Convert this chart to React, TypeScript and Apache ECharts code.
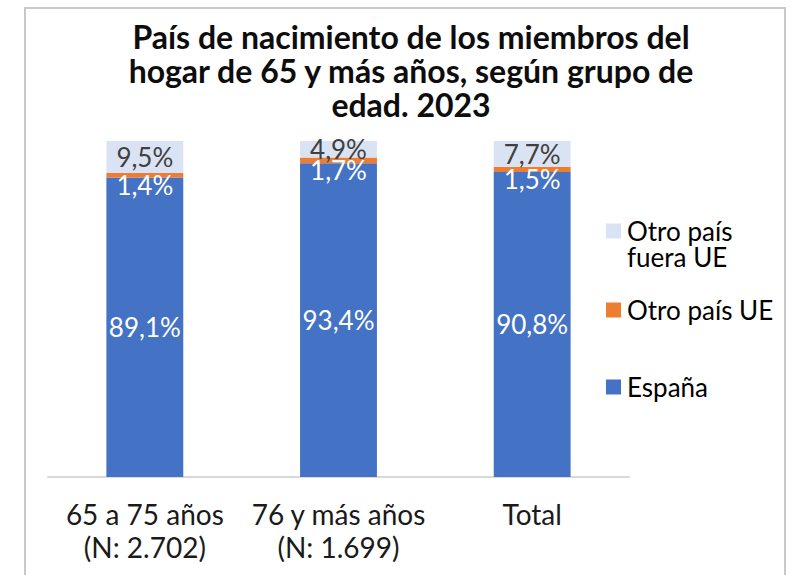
import React, { useEffect, useRef } from "react";
import * as echarts from "echarts";

const categories = ["65 a 75 años\n(N: 2.702)", "76 y más años\n(N: 1.699)", "Total"];
const espana = [89.1, 93.4, 90.8];
const otroUE = [1.4, 1.7, 1.5];
const fueraUE = [9.5, 4.9, 7.7];
const seriesNames = ["España", "Otro país UE", "Otro país fuera UE"];
const titleText = "País de nacimiento de los miembros del\nhogar de 65 y más años, según grupo de\nedad. 2023";

const fmt = (v: number) => v.toFixed(1).replace(".", ",") + "%";

export default function App() {
  const ref = useRef<HTMLDivElement>(null);
  useEffect(() => {
    if (!ref.current) return;
    const chart = echarts.init(ref.current, null, { renderer: "svg" });
    const font = "Lato, 'Noto Sans', sans-serif";
    const labelBase = { show: true, fontFamily: font, fontSize: 26, formatter: (p: any) => fmt(p.value) };
    const legText = { fontFamily: font, fontSize: 26, color: "#000000", padding: [0, 0, 6, 1] };
    chart.setOption({
      animation: false,
      backgroundColor: "#ffffff",
      textStyle: { fontFamily: font },
      title: {
        text: titleText,
        left: 406,
        textAlign: "center",
        top: 14,
        textStyle: { fontFamily: font, fontWeight: "bold", fontSize: 32, lineHeight: 34, color: "#0d0d0d" },
      },
      graphic: [
        { type: "rect", shape: { x: 25, y: 8, width: 760, height: 600 }, style: { fill: "none", stroke: "#c8c8c8", lineWidth: 2 }, silent: true },
        { type: "text", x: 627, y: 257, style: { text: "fuera UE", fontFamily: font, fontSize: 26, fill: "#000000", verticalAlign: "middle" } },
      ],
      legend: [
        { data: [seriesNames[2]], left: 606, top: 218, padding: 0, itemWidth: 15, itemHeight: 15, icon: "rect", formatter: () => "Otro país", textStyle: legText },
        { data: [seriesNames[1]], left: 606, top: 297, padding: 0, itemWidth: 15, itemHeight: 15, icon: "rect", textStyle: legText },
        { data: [seriesNames[0]], left: 606, top: 374, padding: 0, itemWidth: 15, itemHeight: 15, icon: "rect", textStyle: legText },
      ],
      grid: { left: 48, right: 165, top: 141, bottom: 98, containLabel: false },
      xAxis: {
        type: "category",
        data: categories,
        axisLine: { lineStyle: { color: "#d9d9d9", width: 2 } },
        axisTick: { show: false },
        axisLabel: { fontFamily: font, fontSize: 28, color: "#1a1a1a", lineHeight: 33, margin: 20, interval: 0 },
      },
      yAxis: { type: "value", min: 0, max: 100, show: false, splitLine: { show: false } },
      series: [
        {
          name: seriesNames[0], type: "bar", stack: "s", data: espana, barWidth: "39.7%",
          itemStyle: { color: "#4472c4" },
          label: { ...labelBase, position: "inside", color: "#ffffff" },
        },
        {
          name: seriesNames[1], type: "bar", stack: "s", data: otroUE, barWidth: "39.7%",
          itemStyle: { color: "#ed7d31" },
          label: { ...labelBase, position: "inside", offset: [0, 10], color: "#ffffff" },
        },
        {
          name: seriesNames[2], type: "bar", stack: "s", data: fueraUE, barWidth: "39.7%",
          itemStyle: { color: "#dae3f3" },
          label: { ...labelBase, position: "inside", color: "#404040" },
        },
      ],
    });
    return () => chart.dispose();
  }, []);
  return <div ref={ref} style={{ position: "fixed", left: 0, top: 0, width: 794, height: 575 }} />;
}
